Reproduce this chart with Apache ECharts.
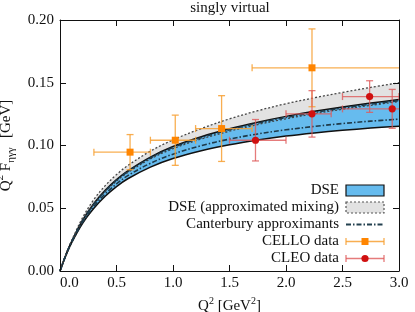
<!DOCTYPE html>
<html><head><meta charset="utf-8">
<script src="https://cdn.jsdelivr.net/npm/echarts@6/dist/echarts.min.js"></script>
<style>html,body{margin:0;padding:0;background:#fff}#c{width:415px;height:312px}</style>
</head><body><div id="c"></div>
<script>
// ---- data ----
const q2 = [0, 0.05, 0.1, 0.2, 0.3, 0.4, 0.5, 0.6, 0.8, 1.0, 1.25, 1.5, 1.75, 2.0, 2.25, 2.5, 2.75, 3.0];
const dseLow  = [0, 0.0119, 0.0220, 0.0380, 0.0500, 0.0596, 0.0673, 0.0735, 0.0828, 0.0896, 0.0958, 0.1006, 0.1044, 0.1075, 0.1100, 0.1121, 0.1139, 0.1154];
const dseHigh = [0, 0.0124, 0.0230, 0.0405, 0.0538, 0.0643, 0.0728, 0.0798, 0.0908, 0.0992, 0.1070, 0.1133, 0.1186, 0.1232, 0.1272, 0.1307, 0.1338, 0.1367];
const mixLow  = [0, 0.0123, 0.0228, 0.0400, 0.0530, 0.0633, 0.0716, 0.0785, 0.0893, 0.0975, 0.1052, 0.1114, 0.1167, 0.1213, 0.1253, 0.1289, 0.1320, 0.1350];
const mixHigh = [0, 0.0125, 0.0236, 0.0425, 0.0570, 0.0680, 0.0768, 0.0840, 0.0955, 0.1045, 0.1135, 0.1212, 0.1277, 0.1333, 0.1380, 0.1423, 0.1463, 0.1500];
const caLow   = [0, 0.0120, 0.0223, 0.0388, 0.0514, 0.0614, 0.0694, 0.0760, 0.0858, 0.0931, 0.0999, 0.1051, 0.1092, 0.1125, 0.1152, 0.1175, 0.1194, 0.1210];
const caHigh  = [0, 0.0123, 0.0229, 0.0402, 0.0534, 0.0638, 0.0723, 0.0792, 0.0901, 0.0985, 0.1062, 0.1125, 0.1178, 0.1223, 0.1263, 0.1298, 0.1329, 0.1357];

const celloQ2   = [0.62, 1.02, 1.43, 2.23];
const celloQ2Lo = [0.30, 0.80, 1.20, 1.70];
const celloQ2Hi = [0.80, 1.20, 1.70, 3.50];
const celloF    = [0.0947, 0.1042, 0.1135, 0.1619];
const celloErr  = [0.0140, 0.0200, 0.0262, 0.0310];

const cleoQ2   = [1.73, 2.23, 2.74, 2.94];
const cleoQ2Lo = [1.50, 2.00, 2.50, 2.50];
const cleoQ2Hi = [2.00, 2.40, 3.00, 3.50];
const cleoF    = [0.1042, 0.1252, 0.1390, 0.1292];
const cleoErr  = [0.0165, 0.0185, 0.0126, 0.0155];

const xTickLabels = ['0.0', '0.5', '1.0', '1.5', '2.0', '2.5', '3.0'];
const yTickLabels = ['0.00', '0.05', '0.10', '0.15', '0.20'];
const legendNames = ['DSE', 'DSE (approximated mixing)', 'Canterbury approximants', 'CELLO data', 'CLEO data'];
const titleText = 'singly virtual';

// ---- helpers ----
const X_MIN = 0, X_MAX = 3, X_INT = 0.5, Y_MIN = 0, Y_MAX = 0.2, Y_INT = 0.05;
const FONT = 'Liberation Serif';
const pairs = (ys) => q2.map((x, i) => [x, ys[i]]);

const BLUE = '#66bbee', GREY = '#e2e2e2';
const CELLO_BAR = 'rgba(247,160,50,0.85)', CELLO_MK = '#ff8500';
const CLEO_BAR = 'rgba(222,90,90,0.8)', CLEO_MK = '#d01010';

function errData(xs, los, his, ys, es) {
  return xs.map((x, i) => [x, ys[i], los[i], his[i], ys[i] - es[i], ys[i] + es[i]]);
}
function errRender(barColor, mkColor, marker) {
  return function (params, api) {
    const x = api.value(0), y = api.value(1);
    const xl = api.value(2), xh = api.value(3), yl = api.value(4), yh = api.value(5);
    const c = api.coord([x, y]);
    const pl = api.coord([Math.max(xl, X_MIN), y]);
    const ph = api.coord([Math.min(xh, X_MAX), y]);
    const pb = api.coord([x, yl]);
    const pt = api.coord([x, yh]);
    const cap = 3.5;
    const st = { stroke: barColor, lineWidth: 1.3, fill: null };
    const ch = [
      { type: 'line', shape: { x1: pl[0], y1: pl[1], x2: ph[0], y2: ph[1] }, style: st },
      { type: 'line', shape: { x1: pb[0], y1: pb[1], x2: pt[0], y2: pt[1] }, style: st },
      { type: 'line', shape: { x1: pb[0] - cap, y1: pb[1], x2: pb[0] + cap, y2: pb[1] }, style: st },
      { type: 'line', shape: { x1: pt[0] - cap, y1: pt[1], x2: pt[0] + cap, y2: pt[1] }, style: st }
    ];
    if (xl >= X_MIN) ch.push({ type: 'line', shape: { x1: pl[0], y1: pl[1] - cap, x2: pl[0], y2: pl[1] + cap }, style: st });
    if (xh <= X_MAX) ch.push({ type: 'line', shape: { x1: ph[0], y1: ph[1] - cap, x2: ph[0], y2: ph[1] + cap }, style: st });
    if (marker === 'square') {
      ch.push({ type: 'rect', shape: { x: c[0] - 3.5, y: c[1] - 3.5, width: 7, height: 7 }, style: { fill: mkColor } });
    } else {
      ch.push({ type: 'circle', shape: { cx: c[0], cy: c[1], r: 3.6 }, style: { fill: mkColor } });
    }
    return { type: 'group', children: ch };
  };
}

const lineBase = { type: 'line', smooth: 0.35, showSymbol: false, symbol: 'none', silent: true, animation: false, z: 2 };
// filled bands: an area under the upper edge, then white under the lower edge
const fillUnder = (ys, color, z) => Object.assign({}, lineBase, {
  data: pairs(ys), lineStyle: { width: 0, opacity: 0 }, areaStyle: { color: color, opacity: 1, origin: 'start' }, z: z
});

const axisCommonX = {
  type: 'value', min: X_MIN, max: X_MAX, interval: X_INT, z: 20,
  axisLine: { show: true, onZero: false, lineStyle: { color: '#111', width: 1 } },
  axisTick: { show: true, inside: true, length: 6, lineStyle: { color: '#111' } },
  splitLine: { show: false }
};
const axisCommonY = {
  type: 'value', min: Y_MIN, max: Y_MAX, interval: Y_INT, z: 20,
  axisLine: { show: true, onZero: false, lineStyle: { color: '#111', width: 1 } },
  axisTick: { show: true, inside: true, length: 6, lineStyle: { color: '#111' } },
  splitLine: { show: false }
};

const chart = echarts.init(document.getElementById('c'), null, { renderer: 'canvas' });

// legend drawn as graphic
const LX = 339, SW0 = 346, SW1 = 384, LY = [190.5, 207.5, 224.5, 241.5, 258.5];
const GZ = 50;
const legendTextStyle = (t, y) => ({ type: 'text', z: GZ, x: LX, y: y, style: { text: t, align: 'right', verticalAlign: 'middle', font: '15px "' + FONT + '"', fill: '#111' } });
const legendGraphics = [
  legendTextStyle(legendNames[0], LY[0]),
  { type: 'rect', z: GZ, shape: { x: SW0, y: LY[0] - 5.5, width: SW1 - SW0, height: 11 }, style: { fill: BLUE, stroke: '#111', lineWidth: 1.2 } },
  legendTextStyle(legendNames[1], LY[1]),
  { type: 'rect', z: GZ, shape: { x: SW0, y: LY[1] - 5.5, width: SW1 - SW0, height: 11 }, style: { fill: GREY, stroke: '#555', lineWidth: 1.2, lineDash: [2, 2] } },
  legendTextStyle(legendNames[2], LY[2]),
  { type: 'line', z: GZ, shape: { x1: SW0, y1: LY[2], x2: SW1, y2: LY[2] }, style: { stroke: '#23404f', lineWidth: 1.8, lineDash: [5, 2, 1.5, 2] } },
  legendTextStyle(legendNames[3], LY[3]),
  { type: 'line', z: GZ, shape: { x1: SW0, y1: LY[3], x2: SW1, y2: LY[3] }, style: { stroke: CELLO_BAR, lineWidth: 1.3 } },
  { type: 'line', z: GZ, shape: { x1: SW0, y1: LY[3] - 3.5, x2: SW0, y2: LY[3] + 3.5 }, style: { stroke: CELLO_BAR, lineWidth: 1.3 } },
  { type: 'line', z: GZ, shape: { x1: SW1, y1: LY[3] - 3.5, x2: SW1, y2: LY[3] + 3.5 }, style: { stroke: CELLO_BAR, lineWidth: 1.3 } },
  { type: 'rect', z: GZ, shape: { x: 365 - 3.5, y: LY[3] - 3.5, width: 7, height: 7 }, style: { fill: CELLO_MK } },
  legendTextStyle(legendNames[4], LY[4]),
  { type: 'line', z: GZ, shape: { x1: SW0, y1: LY[4], x2: SW1, y2: LY[4] }, style: { stroke: CLEO_BAR, lineWidth: 1.3 } },
  { type: 'line', z: GZ, shape: { x1: SW0, y1: LY[4] - 3.5, x2: SW0, y2: LY[4] + 3.5 }, style: { stroke: CLEO_BAR, lineWidth: 1.3 } },
  { type: 'line', z: GZ, shape: { x1: SW1, y1: LY[4] - 3.5, x2: SW1, y2: LY[4] + 3.5 }, style: { stroke: CLEO_BAR, lineWidth: 1.3 } },
  { type: 'circle', z: GZ, shape: { cx: 365, cy: LY[4], r: 3.6 }, style: { fill: CLEO_MK } }
];

const option = {
  animation: false,
  backgroundColor: '#fff',
  textStyle: { fontFamily: FONT },
  grid: { left: 60, top: 20, width: 339, height: 251, containLabel: false, outerBoundsMode: 'none' },
  graphic: [
    { type: 'text', z: GZ, x: 230, y: 8.5, style: { text: titleText, align: 'center', verticalAlign: 'middle', font: '15px "' + FONT + '"', fill: '#111' } }
  ].concat(legendGraphics),
  xAxis: [
    Object.assign({}, axisCommonX, {
      position: 'bottom',
      axisLabel: { show: true, margin: 5, color: '#111', fontSize: 15, fontFamily: FONT,
        formatter: (v) => xTickLabels[Math.round(v / X_INT)], alignMinLabel: 'left' },
      name: '{b|Q}{sp|2}{b| [GeV}{sp|2}{b|]}',
      nameLocation: 'middle', nameGap: 21,
      nameTextStyle: { color: '#111', rich: {
        b: { fontSize: 15, fontFamily: FONT, lineHeight: 18, verticalAlign: 'bottom', color: '#111' },
        sp: { fontSize: 10, fontFamily: FONT, lineHeight: 10, verticalAlign: 'top', color: '#111' } } }
    }),
    Object.assign({}, axisCommonX, { position: 'top', axisLabel: { show: false } })
  ],
  yAxis: [
    Object.assign({}, axisCommonY, {
      position: 'left',
      axisLabel: { show: true, margin: 6, color: '#111', fontSize: 15, fontFamily: FONT,
        formatter: (v) => yTickLabels[Math.round(v / Y_INT)] },
      name: '{b|Q}{sp|2}{b| F}{sb|ηγγ}{sp|*}{b| [GeV]}',
      nameLocation: 'middle', nameGap: 36, nameRotate: 90,
      nameTextStyle: { color: '#111', rich: {
        b: { fontSize: 15, fontFamily: FONT, lineHeight: 22, verticalAlign: 'middle', color: '#111' },
        sp: { fontSize: 11, fontFamily: FONT, lineHeight: 12, verticalAlign: 'top', color: '#111' },
        sb: { fontSize: 11, fontFamily: FONT, lineHeight: 11, verticalAlign: 'bottom', color: '#111' } } }
    }),
    Object.assign({}, axisCommonY, { position: 'right', axisLabel: { show: false } })
  ],
  series: [
    // grey band (approximated mixing) and blue band (DSE)
    fillUnder(mixHigh, GREY, 1),
    fillUnder(mixLow, '#ffffff', 1),
    fillUnder(dseHigh, BLUE, 1),
    fillUnder(dseLow, '#ffffff', 1),
    // boundaries
    Object.assign({}, lineBase, { name: 'dseLowLine', data: pairs(dseLow), lineStyle: { color: '#111', width: 1.5 } }),
    Object.assign({}, lineBase, { name: 'dseHighLine', data: pairs(dseHigh), lineStyle: { color: '#111', width: 1.5 } }),
    Object.assign({}, lineBase, { name: 'mixLowLine', data: pairs(mixLow), lineStyle: { color: '#444', width: 1.3, type: [2, 2] } }),
    Object.assign({}, lineBase, { name: 'mixHighLine', data: pairs(mixHigh), lineStyle: { color: '#444', width: 1.3, type: [2, 2] } }),
    Object.assign({}, lineBase, { name: legendNames[2], data: pairs(caLow), lineStyle: { color: '#1e3a4a', width: 1.6, type: [5, 2, 1.5, 2] } }),
    Object.assign({}, lineBase, { name: 'caHigh', data: pairs(caHigh), lineStyle: { color: '#1e3a4a', width: 1.6, type: [5, 2, 1.5, 2] } }),
    // data
    { type: 'custom', name: legendNames[3], clip: true, silent: true, z: 5,
      data: errData(celloQ2, celloQ2Lo, celloQ2Hi, celloF, celloErr),
      encode: { x: 0, y: 1 }, renderItem: errRender(CELLO_BAR, CELLO_MK, 'square') },
    { type: 'custom', name: legendNames[4], clip: true, silent: true, z: 5,
      data: errData(cleoQ2, cleoQ2Lo, cleoQ2Hi, cleoF, cleoErr),
      encode: { x: 0, y: 1 }, renderItem: errRender(CLEO_BAR, CLEO_MK, 'circle') }
  ]
};
chart.setOption(option);
</script>
</body></html>
